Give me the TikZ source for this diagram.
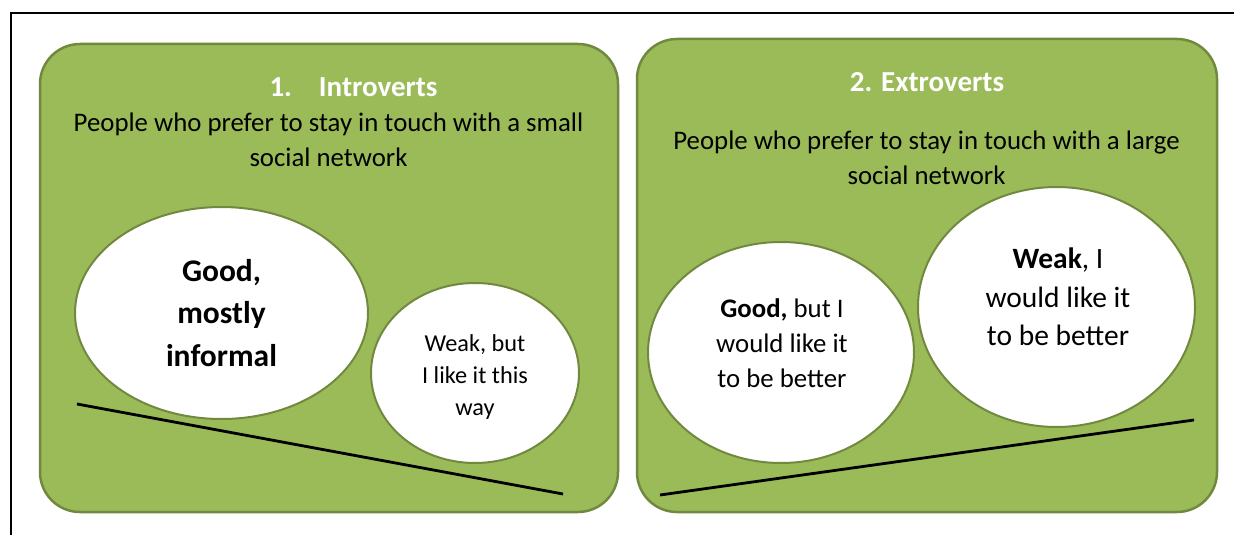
\documentclass[tikz,border=0pt]{standalone}
\usepackage{fontspec}
\setmainfont{Carlito}
\usetikzlibrary{shapes.geometric}
\definecolor{panelgreen}{HTML}{9BBB59}
\definecolor{paneledge}{HTML}{71893F}
\tikzset{
  panel/.style={draw=paneledge, line width=2.5pt, fill=panelgreen, rounded corners=40pt, inner sep=0pt},
  bubble/.style={ellipse, draw=paneledge, line width=2pt, fill=white, inner sep=0pt},
  bubbletext/.style={align=center, inner sep=0pt},
  title/.style={text=white, font=\fontsize{29}{34}\selectfont\bfseries, inner sep=0pt},
  body/.style={align=center, font=\fontsize{26.8}{35}\selectfont, inner sep=0pt},
  slope/.style={line width=2.8pt, black},
}
\begin{document}
\begin{tikzpicture}[x=1pt,y=-1pt]
\useasboundingbox (0,0) rectangle (1234,535);
\fill[white] (0,0) rectangle (1234,535);
% outer frame (top and left only visible)
\coordinate (fl) at (11,535);
\coordinate (ft) at (11,13);
\coordinate (fr) at (1234,13);
\draw[line width=2.8pt] (fl) -- (ft) -- (fr);
% panels
\node[panel, minimum width=578pt, minimum height=468pt] (p1) at (329,278) {};
\node[panel, minimum width=580pt, minimum height=473pt] (p2) at (927,275.5) {};
% titles
\node[title] (t1) at (353.5,87) {1.\hspace{27pt}Introverts};
\node[title] (t2) at (927,82) {2. Extroverts};
\node[body] (d1) at (328.5,139.5) {People who prefer to stay in touch with a small\\social network};
\node[body] (d2) at (926.5,158) {People who prefer to stay in touch with a large\\social network};
% slope lines
\coordinate (l1a) at (77,404);
\coordinate (l1b) at (563,494);
\coordinate (l2a) at (660,495);
\coordinate (l2b) at (1194,420);
\draw[slope] (l1a) -- (l1b);
\draw[slope] (l2a) -- (l2b);
% bubbles
\node[bubble, minimum width=293pt, minimum height=212pt] (b1) at (221.5,313) {};
\node[bubbletext, font=\fontsize{31.5}{42.5}\selectfont\bfseries] (b1t) at (b1) {Good,\\mostly\\informal};
\node[bubble, minimum width=208pt, minimum height=180pt] (b2) at (475,373) {};
\node[bubbletext, font=\fontsize{24.3}{32}\selectfont] (b2t) at (475,377) {Weak, but\\I like it this\\way};
\node[bubble, minimum width=266pt, minimum height=221pt] (b3) at (781,352.5) {};
\node[bubbletext, font=\fontsize{26.8}{35}\selectfont] (b3t) at (782,343) {\textbf{Good,} but I\\would like it\\to be better};
\node[bubble, minimum width=277pt, minimum height=240pt] (b4) at (1056.5,307) {};
\node[bubbletext, font=\fontsize{29.5}{38.5}\selectfont] (b4t) at (1058,297) {\textbf{Weak}, I\\would like it\\to be better};
\end{tikzpicture}
\end{document}
